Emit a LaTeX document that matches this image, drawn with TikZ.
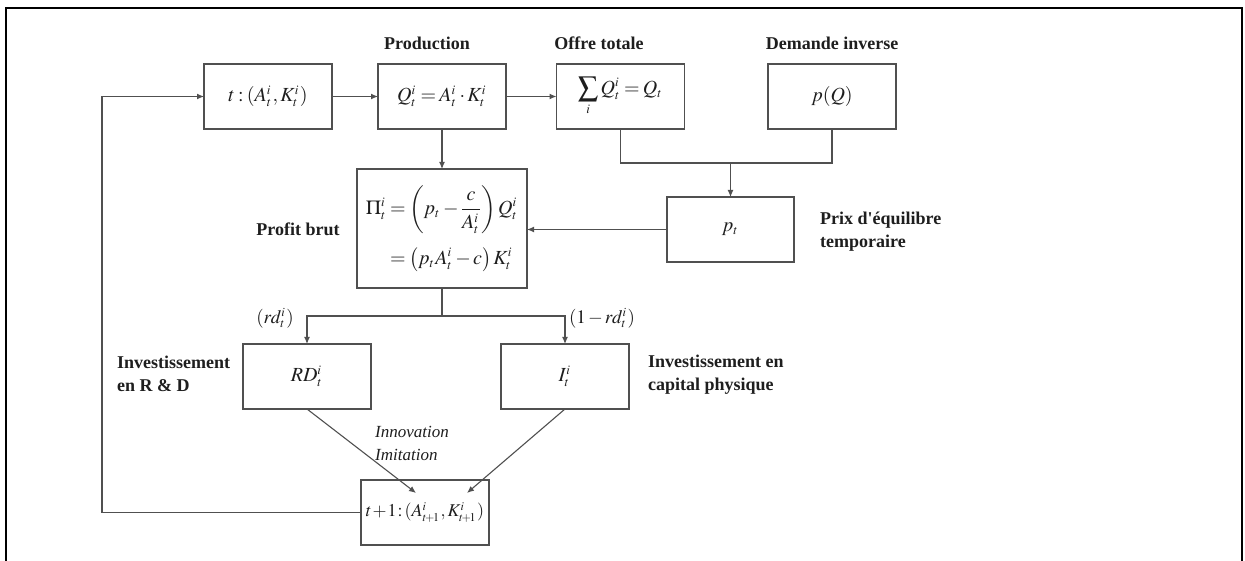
\documentclass[tikz,border=0pt]{standalone}
\usepackage{amsmath}
\usepackage{mathptmx}
\usepackage[no-math]{fontspec}
\setmainfont{Liberation Serif}
\usetikzlibrary{arrows.meta}
\DeclareMathSizes{20}{20}{13}{9}
\DeclareMathSizes{19}{19}{12.5}{9}
\DeclareMathSizes{18}{18}{12}{8.5}
\definecolor{boxline}{HTML}{505050}
\definecolor{txt}{HTML}{1E1E1E}
\tikzset{
  stepbox/.style={draw=boxline, line width=1.1pt, minimum width=128pt, minimum height=65pt, inner sep=0pt, outer sep=0pt, text=txt, font=\fontsize{20}{24}\selectfont},
  lbl/.style={font=\fontsize{18}{23}\selectfont\bfseries, text=txt, inner sep=0pt, align=left},
  conn/.style={draw=boxline, line width=1.1pt},
  arr/.style={conn, -{Latex[length=7pt,width=6pt]}},
}
\begin{document}
\thickmuskip=3mu plus 1mu
\medmuskip=2mu plus 1mu
\scriptspace=1.5pt
\begin{tikzpicture}[x=1pt,y=-1pt]
\useasboundingbox (0,0) rectangle (1245,561);
\draw[line width=2.2pt, black] (6,570) -- (6,8) -- (1242,8) -- (1242,570);

% boxes
\node[stepbox] (t) at (268,96.5) {$t:\left(A_t^i,K_t^i\right)$};
\node[stepbox] (Q) at (442,96.5) {$Q_t^i=A_t^i\cdot K_t^i$};
\node[stepbox] (S) at (620.5,96.5) {$\displaystyle\sum_i Q_t^i=Q_t$};
\node[stepbox] (pQ) at (832,96.5) {$p(Q)$};
\node[stepbox, minimum width=170pt, minimum height=119pt] (P) at (442,228.5)
  {$\begin{aligned}\Pi_t^i&=\left(p_t-\frac{c}{A_t^i}\right)Q_t^i\\[10pt]&=\left(p_tA_t^i-c\right)K_t^i\end{aligned}$};
\node[stepbox, minimum width=127pt] (pt) at (730.5,229.5) {$p_t$};
\node[stepbox] (RD) at (307,376.5) {$RD_t^i$};
\node[stepbox] (I) at (565,376.5) {$I_t^i$};
\node[stepbox, font=\fontsize{18}{22}\selectfont] (T1) at (425,512.5) {$t\mkern-1mu+\mkern-1mu1\mkern-2mu:\mkern-1mu\left(A_{t\!+\!1}^i,K_{t\!+\!1}^i\right)$};

% labels
\node[lbl] (lprod) at (427,43) {Production};
\node[lbl] (loffre) at (599,43) {Offre totale};
\node[lbl] (ldem) at (832,43) {Demande inverse};
\node[lbl] (lprofit) at (298,229) {Profit brut};
\node[lbl, anchor=west] (lprix) at (820,231.5) {Prix d\textquotesingle équilibre\\temporaire};
\node[lbl, anchor=west] (lrd) at (117,374) {Investissement\\en R \& D};
\node[lbl, anchor=west] (lcap) at (648,375) {Investissement en\\capital physique};
\node[font=\fontsize{17}{23}\selectfont\itshape, text=txt, inner sep=0pt, align=left, anchor=west] (linno) at (375,443.5) {Innovation\\Imitation};
\node[font=\fontsize{19}{22}\selectfont, text=txt, inner sep=0pt] (lrdt) at (275,318) {$\left(rd_t^i\right)$};
\node[font=\fontsize{19}{22}\selectfont, text=txt, inner sep=0pt] (lrdt1) at (602,318) {$\left(1-rd_t^i\right)$};

% connectors
\draw[arr] (t.east) -- (Q.west);
\draw[arr] (Q.east) -- (S.west);
\draw[arr] (Q.south) -- (P.north);
\coordinate (j1) at (620.5,163);
\coordinate (j2) at (832,163);
\coordinate (jm) at (730.5,163);
\draw[conn] (S.south) -- (j1) -- (j2) -- (pQ.south);
\draw[arr] (jm) -- (pt.north);
\draw[arr] (pt.west) -- (P.east |- pt.west);
\coordinate (k) at (442,316);
\draw[conn] (P.south) -- (k);
\draw[arr] (k) -| (RD.north);
\draw[arr] (k) -| (I.north);
\coordinate (a1) at (416,493);
\coordinate (a2) at (467,493);
\draw[arr] (RD.south) -- (a1);
\draw[arr] (I.south) -- (a2);
\coordinate (fb) at (102,512.5);
\draw[arr] (T1.west) -- (fb) |- (t.west);
\end{tikzpicture}
\end{document}
